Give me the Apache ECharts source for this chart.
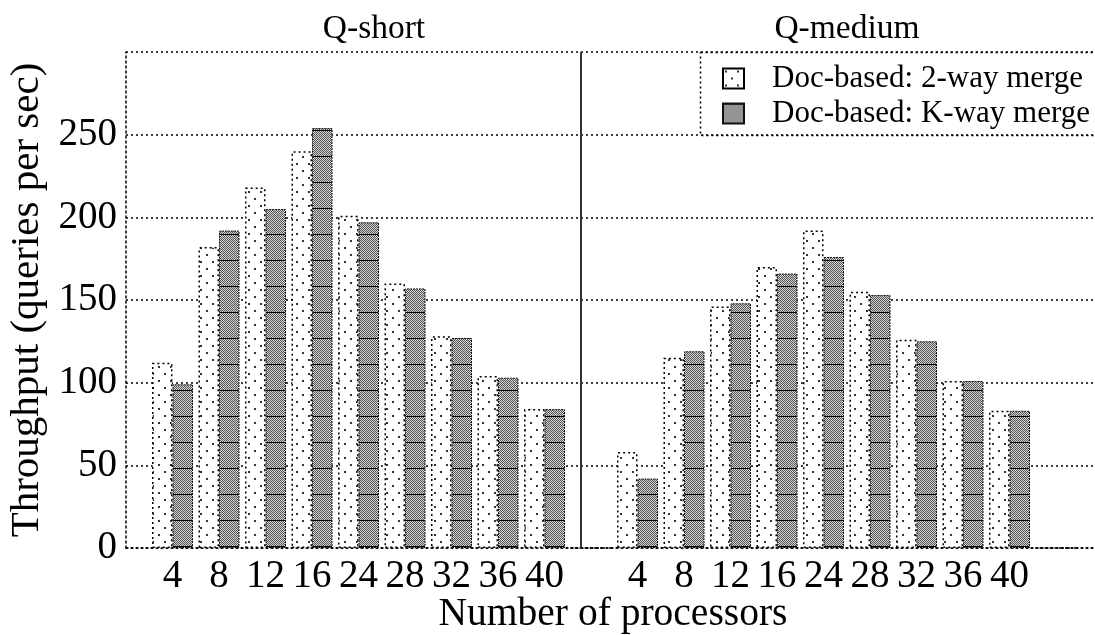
<!DOCTYPE html>
<html>
<head>
<meta charset="utf-8" />
<title></title>
<script type="text/javascript" src="https://cdn.jsdelivr.net/npm/echarts@6/dist/echarts.min.js"></script>
</head>
<body style="margin:0;background:#fff;">
<div id="chart" style="width:1095px;height:635px;"></div>
<script type="text/javascript">
// data
var panels = ['Q-short', 'Q-medium'];
var procs = ['4', '8', '12', '16', '24', '28', '32', '36', '40'];
var shortTwoWay = [112, 182, 218, 240, 201, 160, 128, 104, 84];
var shortKWay = [99, 192, 205, 254, 197, 157, 127, 103, 84];
var mediumTwoWay = [58, 115, 146, 170, 192, 155, 126, 101, 83];
var mediumKWay = [42, 119, 148, 166, 176, 153, 125, 101, 83];
var yTicks = [0, 50, 100, 150, 200, 250];

// one axis for both panels, empty slot at the start, between and at the end
var cats = [''].concat(procs, [''], procs, ['']);
var twoWay = [null].concat(shortTwoWay, [0], mediumTwoWay, [0]);
var kWay = [null].concat(shortKWay, [0], mediumKWay, [0]);

var FONT = 'Liberation Serif';

// fill patterns
function dotPattern() {
	var c = document.createElement('canvas');
	c.width = 12; c.height = 14;
	var ctx = c.getContext('2d');
	ctx.fillStyle = '#fff';
	ctx.fillRect(0, 0, 12, 14);
	ctx.fillStyle = '#333';
	ctx.fillRect(2, 2, 2, 2);
	ctx.fillRect(8, 9, 2, 2);
	return c;
}
function checkPattern() {
	var c = document.createElement('canvas');
	c.width = 2; c.height = 26;
	var ctx = c.getContext('2d');
	for (var y = 0; y < 26; y++) {
		for (var x = 0; x < 2; x++) {
			ctx.fillStyle = ((x + y) % 2) ? '#d4d4d4' : '#555';
			ctx.fillRect(x, y, 1, 1);
		}
	}
	ctx.fillStyle = '#000';
	ctx.fillRect(0, 0, 2, 1);
	return c;
}

var dotted = [2, 3];
var chart = echarts.init(document.getElementById('chart'));
chart.setOption({
	backgroundColor: '#fff',
	animation: false,
	textStyle: { fontFamily: FONT, color: '#000' },
	title: [
		{ text: panels[0], left: 369, top: 7, textAlign: 'center',
		  textStyle: { fontFamily: FONT, fontSize: 33.5, fontWeight: 'normal', color: '#000' } },
		{ text: panels[1], left: 842, top: 7, textAlign: 'center',
		  textStyle: { fontFamily: FONT, fontSize: 33.5, fontWeight: 'normal', color: '#000' } }
	],
	legend: {
		orient: 'vertical',
		left: 722,
		top: 63,
		icon: 'rect',
		itemWidth: 21,
		itemHeight: 20,
		itemGap: 4,
		padding: 0,
		textStyle: { fontFamily: FONT, fontSize: 31, color: '#000', padding: [0, 0, 0, 23] },
		data: ['Doc-based: 2-way merge', 'Doc-based: K-way merge']
	},
	graphic: [{
		type: 'rect',
		shape: { x: 700.5, y: 52.5, width: 420, height: 83 },
		style: { fill: null, stroke: '#000', lineWidth: 1.5, lineDash: dotted },
		z: 1
	}],
	grid: [
		{ left: 126, right: 39, top: 52, bottom: 87, outerBoundsMode: 'none', containLabel: false },
		{ left: 126, right: -5, top: 52, bottom: 87, outerBoundsMode: 'none', containLabel: false }
	],
	xAxis: [
		{
			type: 'category',
			gridIndex: 0,
			data: cats,
			boundaryGap: false,
			axisLine: { show: false },
			axisTick: { show: false },
			axisLabel: { fontFamily: FONT, fontSize: 39, color: '#000', margin: 9, interval: 0 },
			splitLine: { show: false }
		},
		{
			type: 'value',
			gridIndex: 1,
			min: 0,
			max: 1,
			name: 'Number of processors',
			nameLocation: 'middle',
			nameGap: 47,
			nameTextStyle: { fontFamily: FONT, fontSize: 39.5, color: '#000' },
			axisLine: { show: true, lineStyle: { color: '#000', width: 1.5, type: dotted } },
			axisTick: { show: false },
			axisLabel: { show: false },
			splitLine: { show: false }
		}
	],
	yAxis: [
		{
			type: 'value',
			gridIndex: 0,
			min: 0,
			max: 300,
			interval: 50,
			show: false
		},
		{
			type: 'value',
			gridIndex: 1,
			min: 0,
			max: 300,
			interval: 50,
			name: 'Throughput (queries per sec)',
			nameLocation: 'middle',
			nameGap: 76,
			nameTextStyle: { fontFamily: FONT, fontSize: 41, color: '#000' },
			axisLine: { show: true, lineStyle: { color: '#000', width: 1.5, type: dotted } },
			axisTick: { show: false },
			axisLabel: {
				fontFamily: FONT, fontSize: 39, color: '#000', margin: 9,
				formatter: function (v) { return yTicks.indexOf(v) >= 0 ? String(v) : ''; }
			},
			splitLine: { show: true, lineStyle: { color: '#000', width: 1.5, type: dotted } }
		}
	],
	series: [
		{
			name: 'Doc-based: 2-way merge',
			type: 'bar',
			xAxisIndex: 0,
			yAxisIndex: 0,
			barWidth: 20.5,
			barGap: 0,
			data: twoWay,
			itemStyle: {
				color: { image: dotPattern(), repeat: 'repeat' },
				borderColor: '#000',
				borderWidth: 1.5,
				borderType: dotted
			},
			markLine: {
				silent: true,
				symbol: 'none',
				label: { show: false },
				lineStyle: { color: '#333', width: 2, type: 'solid' },
				data: [{ xAxis: 10 }]
			}
		},
		{
			name: 'Doc-based: K-way merge',
			type: 'bar',
			xAxisIndex: 0,
			yAxisIndex: 0,
			barWidth: 20.5,
			barGap: 0,
			data: kWay,
			itemStyle: {
				color: { image: checkPattern(), repeat: 'repeat' },
				borderColor: '#111',
				borderWidth: 1,
				borderType: [2, 1]
			}
		}
	]
});
</script>
</body>
</html>
